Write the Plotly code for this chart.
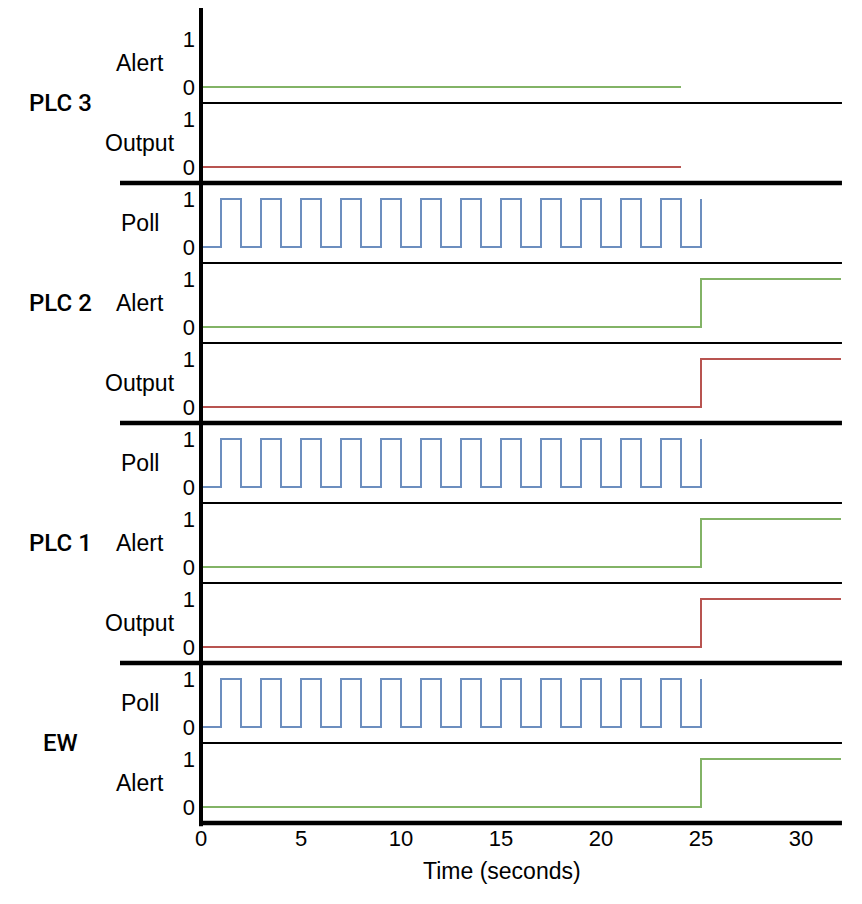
import plotly.graph_objects as go
from plotly.subplots import make_subplots

# ---- data ----
poll_t = [0, 1, 2, 3, 4, 5, 6, 7, 8, 9, 10, 11, 12, 13, 14, 15, 16, 17, 18, 19, 20, 21, 22, 23, 24, 25]
poll_v = [0, 1, 0, 1, 0, 1, 0, 1, 0, 1, 0, 1, 0, 1, 0, 1, 0, 1, 0, 1, 0, 1, 0, 1, 0, 1]

plc3_t = [0, 24]
plc3_alert = [0, 0]
plc3_output = [0, 0]

step_t = [0, 25, 32]
plc2_alert = [0, 1, 1]
plc2_output = [0, 1, 1]
plc1_alert = [0, 1, 1]
plc1_output = [0, 1, 1]
ew_alert = [0, 1, 1]

x_ticks = [0, 5, 10, 15, 20, 25, 30]
y_ticks = [0, 1]
x_title = "Time (seconds)"

GREEN = "#82b366"
RED = "#b85450"
BLUE = "#6c8ebf"

rows = [
    ("PLC 3", "Alert", plc3_t, plc3_alert, GREEN),
    ("PLC 3", "Output", plc3_t, plc3_output, RED),
    ("PLC 2", "Poll", poll_t, poll_v, BLUE),
    ("PLC 2", "Alert", step_t, plc2_alert, GREEN),
    ("PLC 2", "Output", step_t, plc2_output, RED),
    ("PLC 1", "Poll", poll_t, poll_v, BLUE),
    ("PLC 1", "Alert", step_t, plc1_alert, GREEN),
    ("PLC 1", "Output", step_t, plc1_output, RED),
    ("EW", "Poll", poll_t, poll_v, BLUE),
    ("EW", "Alert", step_t, ew_alert, GREEN),
]

n = len(rows)
FONT = "Liberation Sans, Arial, Helvetica, sans-serif"
GFONT = "Roboto, Liberation Sans, Arial, sans-serif"
fig = make_subplots(rows=n, cols=1, shared_xaxes=True, vertical_spacing=0)

for i, (grp, name, t, v, col) in enumerate(rows):
    fig.add_trace(go.Scatter(x=t, y=v, mode="lines", line=dict(color=col, width=2, shape="hv"),
                             showlegend=False, hoverinfo="skip"), row=i + 1, col=1)
    fig.update_yaxes(range=[-1/3, 4/3], tickvals=y_ticks, ticktext=[str(k) for k in y_ticks],
                     showgrid=False, zeroline=False, showline=False, ticks="",
                     ticklabelstandoff=5,
                     tickfont=dict(size=22, color="#000", family=FONT), fixedrange=True,
                     row=i + 1, col=1)

fig.update_xaxes(range=[0, 32], showgrid=False, zeroline=False, showline=False, ticks="",
                 showticklabels=False)
fig.update_xaxes(showticklabels=True, tickvals=x_ticks, tickfont=dict(size=22, color="#000", family=FONT),
                 row=n, col=1)

# page has an 8px body margin; figure is sized to fit the 862x904 window
OFF = 8
W, H = 862 - OFF, 904 - OFF
L, R, T, B = 201 - OFF, 21, 23 - OFF, 81
pw = W - L - R
ph = H - T - B

shapes = []
for i in range(n - 1):
    y = 1 - (i + 1) / n
    if rows[i][0] != rows[i + 1][0]:
        shapes.append(dict(type="line", xref="paper", yref="paper", x0=(120 - 201) / pw, x1=1.0015,
                           y0=y, y1=y, line=dict(color="#000", width=4.5)))
    else:
        shapes.append(dict(type="line", xref="paper", yref="paper", x0=0, x1=1.0015,
                           y0=y, y1=y, line=dict(color="#000", width=2)))
shapes.append(dict(type="line", xref="paper", yref="paper", x0=0, x1=0,
                   y0=-0.004, y1=1 + T / ph, line=dict(color="#000", width=4)))
shapes.append(dict(type="line", xref="paper", yref="paper", x0=-0.003, x1=1.0015,
                   y0=0, y1=0, line=dict(color="#000", width=4.5)))

annotations = []
for i, (grp, name, t, v, col) in enumerate(rows):
    ymid = 1 - (i + 0.5) / n
    annotations.append(dict(text=name, xref="paper", yref="paper", x=(140 - 201) / pw, y=ymid,
                            xanchor="center", yanchor="middle", showarrow=False,
                            font=dict(size=23, color="#000", family=FONT)))
groups = []
for i, r in enumerate(rows):
    if not groups or groups[-1][0] != r[0]:
        groups.append([r[0], i, i])
    else:
        groups[-1][2] = i
for g, a, b in groups:
    ymid = 1 - ((a + b + 1) / 2) / n
    annotations.append(dict(text=g, xref="paper", yref="paper", x=(60 - 201) / pw, y=ymid,
                            xanchor="center", yanchor="middle", showarrow=False,
                            font=dict(size=24, color="#000", family=GFONT, weight=500)))
# x-axis title (placed slightly left of the plot centre, as in the original)
annotations.append(dict(text=x_title, xref="paper", yref="paper", x=(502 - 201) / pw,
                        y=-(871 - 823) / ph, xanchor="center", yanchor="middle", showarrow=False,
                        font=dict(size=23, color="#000", family=FONT)))

fig.update_layout(width=W, height=H, margin=dict(l=L, r=R, t=T, b=B, autoexpand=False),
                  paper_bgcolor="white", plot_bgcolor="white",
                  shapes=shapes, annotations=annotations,
                  font=dict(family=FONT, color="#000", size=22))

fig.write_html("out.html")
